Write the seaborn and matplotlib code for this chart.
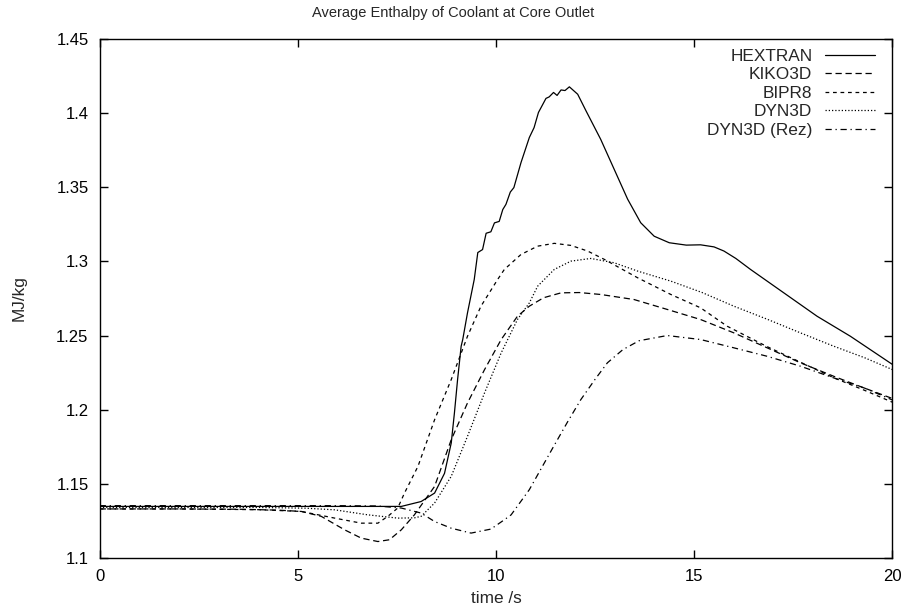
import numpy as np
import pandas as pd
import matplotlib
matplotlib.use("Agg")
import matplotlib.pyplot as plt
import seaborn as sns

t_hextran = [0, 2, 4, 6, 7, 7.61, 8.11, 8.45, 8.7, 8.87, 8.95, 9.03, 9.12, 9.16, 9.28, 9.45, 9.54,
             9.66, 9.75, 9.87, 9.96, 10.08, 10.17, 10.25, 10.36, 10.45, 10.63, 10.84, 10.96, 11.07,
             11.26, 11.34, 11.45, 11.54, 11.64, 11.74, 11.85, 12.06, 12.27, 12.64, 12.98, 13.32,
             13.65, 13.99, 14.37, 14.8, 15.16, 15.5, 15.75, 16.05, 16.42, 17.26, 18.1, 18.94, 20]
h_hextran = [1.1347, 1.1347, 1.1347, 1.1347, 1.1347, 1.1347, 1.138, 1.1437, 1.157, 1.1775, 1.1977,
             1.2203, 1.2428, 1.2473, 1.2653, 1.2878, 1.306, 1.308, 1.319, 1.320, 1.326, 1.327, 1.335,
             1.3385, 1.3468, 1.3498, 1.3667, 1.3836, 1.3903, 1.4005, 1.41, 1.411, 1.414, 1.412,
             1.4157, 1.4153, 1.4178, 1.4128, 1.4016, 1.3824, 1.3622, 1.342, 1.3261, 1.317, 1.3126,
             1.311, 1.3112, 1.3098, 1.307, 1.302, 1.2946, 1.2788, 1.263, 1.2495, 1.2305]

t_kiko = [0, 2, 3.5, 4.5, 5.09, 5.59, 6.18, 6.6, 7.02, 7.31, 7.61, 7.94, 8.45, 8.87, 9.28, 9.71,
          10.13, 10.54, 10.84, 11.2, 11.64, 12.1, 12.64, 13.48, 14.32, 15.16, 16.0, 16.84, 17.68,
          18.52, 19.2, 20]
h_kiko = [1.133, 1.133, 1.1328, 1.1322, 1.1313, 1.128, 1.1189, 1.1133, 1.111, 1.1122, 1.1189,
          1.129, 1.1482, 1.1797, 1.2045, 1.227, 1.2473, 1.263, 1.2698, 1.2755, 1.2788, 1.279,
          1.2777, 1.2743, 1.2676, 1.2608, 1.2518, 1.2417, 1.2316, 1.2225, 1.2155, 1.2075]

t_bipr = [0, 2, 4, 5.09, 5.93, 6.6, 7.02, 7.27, 7.52, 7.69, 8.03, 8.45, 8.87, 9.28, 9.62, 10.04,
          10.21, 10.63, 11.05, 11.47, 11.89, 12.31, 12.73, 13.57, 14.41, 15.16, 15.83, 16.84,
          17.68, 18.52, 19.3, 20]
h_bipr = [1.133, 1.133, 1.1325, 1.1313, 1.1268, 1.1234, 1.1234, 1.128, 1.1336, 1.1437, 1.1617,
          1.1932, 1.2203, 1.2495, 1.2698, 1.2878, 1.2946, 1.3047, 1.3103, 1.3122, 1.3108, 1.307,
          1.3014, 1.289, 1.2777, 1.2687, 1.2563, 1.2425, 1.232, 1.2215, 1.213, 1.205]

t_dyn = [0, 2, 4, 5.2, 5.93, 6.77, 7.52, 7.94, 8.11, 8.45, 8.87, 9.28, 9.71, 10.13, 10.54, 10.84,
         11.05, 11.47, 11.89, 12.39, 12.98, 13.57, 14.41, 15.2, 16.0, 16.84, 17.68, 18.5, 19.3, 20]
h_dyn = [1.134, 1.134, 1.134, 1.1335, 1.1324, 1.129, 1.1268, 1.127, 1.128, 1.137, 1.155, 1.182,
         1.2113, 1.2383, 1.2608, 1.272, 1.2833, 1.2946, 1.3002, 1.302, 1.2991, 1.2935, 1.2867,
         1.279, 1.2698, 1.261, 1.2518, 1.243, 1.235, 1.227]

t_rez = [0, 2, 4, 6, 7, 7.61, 8.11, 8.45, 8.87, 9.37, 9.87, 10.21, 10.38, 10.84, 11.43, 11.8,
         12.14, 12.5, 12.81, 13.2, 13.61, 14.32, 15.16, 16.0, 16.84, 17.68, 18.52, 19.3, 20]
h_rez = [1.1352, 1.1352, 1.1352, 1.1352, 1.135, 1.1336, 1.1302, 1.1245, 1.12, 1.1167, 1.1194,
         1.1257, 1.129, 1.146, 1.1741, 1.1915, 1.2068, 1.2205, 1.2316, 1.2405, 1.2465, 1.25,
         1.2473, 1.2417, 1.236, 1.2293, 1.2214, 1.2145, 1.2065]

names = ["HEXTRAN", "KIKO3D", "BIPR8", "DYN3D", "DYN3D (Rez)"]
series = [(t_hextran, h_hextran), (t_kiko, h_kiko), (t_bipr, h_bipr), (t_dyn, h_dyn), (t_rez, h_rez)]
styles = ["-", (0, (5, 3)), (0, (3, 3)), (0, (1, 1.6)), (0, (5, 3, 1, 3))]

sns.set_style("ticks")
plt.rcParams["font.family"] = ["Liberation Sans", "DejaVu Sans"]
plt.rcParams["font.size"] = 12

fig, ax = plt.subplots(figsize=(9.06, 6.11), dpi=100)
fig.subplots_adjust(left=0.110, right=0.985, top=0.936, bottom=0.087)

for name, (t, h), ls in zip(names, series, styles):
    df = pd.DataFrame({"time": t, "h": h})
    sns.lineplot(data=df, x="time", y="h", ax=ax, color="black", linewidth=0.9,
                 linestyle=ls, label=name, legend=False)

ax.set_xlim(0, 20)
ax.set_ylim(1.1, 1.45)
ax.set_xticks(np.arange(0, 21, 5))
ax.set_yticks(np.arange(1.1, 1.451, 0.05))
ax.set_yticklabels(["1.1", "1.15", "1.2", "1.25", "1.3", "1.35", "1.4", "1.45"])
ax.tick_params(direction="in", length=6, width=1, top=True, right=True, pad=8,
               colors="black", labelsize=12)
for s in ax.spines.values():
    s.set_linewidth(1.0)
    s.set_color("black")

ax.set_xlabel("time /s", labelpad=5, fontsize=12.4)
ax.set_ylabel("MJ/kg", labelpad=21, fontsize=12.4)
fig.suptitle("Average Enthalpy of Coolant at Core Outlet", y=0.99, fontsize=10.5)

handles, labels = ax.get_legend_handles_labels()
ax.legend(handles, labels, loc="upper right", bbox_to_anchor=(0.987, 0.995), frameon=False,
          markerfirst=False, handlelength=2.9, handletextpad=0.75, labelspacing=0.2,
          borderaxespad=0.2, borderpad=0.2, fontsize=12.4)

fig.savefig("out.png", dpi=100)
